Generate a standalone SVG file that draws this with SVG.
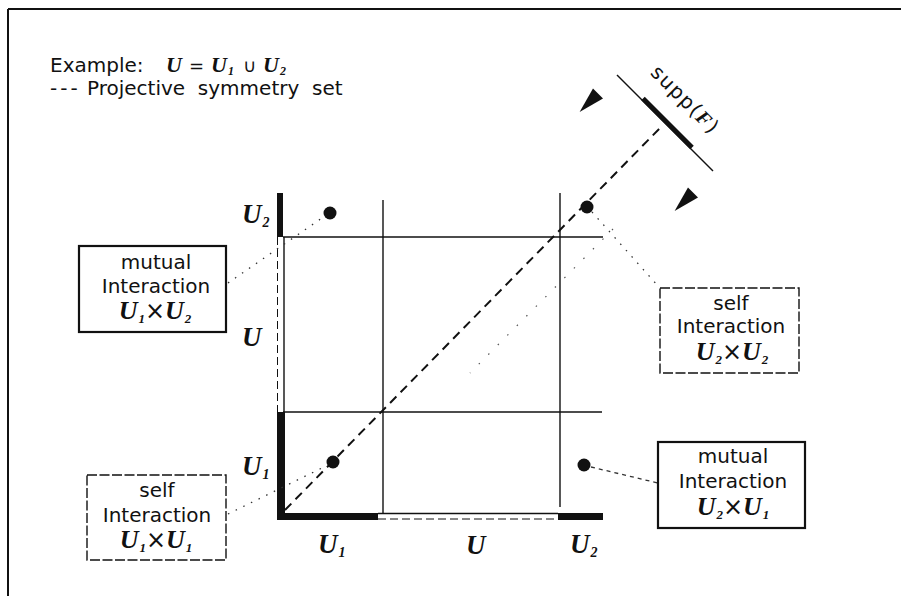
<svg xmlns="http://www.w3.org/2000/svg" width="901" height="596" viewBox="0 0 901 596">
<style>
.t{font-family:"DejaVu Sans","Liberation Sans",sans-serif;font-size:20px;fill:#111}
.bt{font-family:"DejaVu Sans","Liberation Sans",sans-serif;font-size:20px;fill:#111;text-anchor:middle}
.u{font-family:"Liberation Serif","DejaVu Serif",serif;font-style:italic;font-weight:bold;font-size:27px;fill:#111}
.ub{font-family:"Liberation Serif","DejaVu Serif",serif;font-style:italic;font-weight:bold;font-size:26px;fill:#111;text-anchor:middle}
.sub{font-size:14px}
.op{font-family:"DejaVu Sans",sans-serif;font-style:normal;font-weight:normal}
.ln{stroke:#111;stroke-width:1.4;fill:none}
.bar{fill:#111}
.solidbox{fill:#fff;stroke:#111;stroke-width:2.2}
.dashbox{fill:#fff;stroke:#111;stroke-width:1.4;stroke-dasharray:10 2.5}
.lead{stroke:#333;stroke-width:1.3;fill:none;stroke-dasharray:1.5 7}
.faint{stroke:#555;stroke-width:1.2;fill:none;stroke-dasharray:1.5 12}
.dot{fill:#111}
</style>

<g id="frame">
<line x1="8" y1="9" x2="901" y2="9" stroke="#111" stroke-width="2"/>
<line x1="8" y1="9" x2="8" y2="596" stroke="#111" stroke-width="2"/>
</g>

<g id="legend">
<text class="t" x="50" y="72">Example:</text>
<text class="u" x="166" y="72" style="font-size:22px">U<tspan class="op" dx="7" style="font-size:18px">=</tspan><tspan dx="7">U</tspan><tspan class="sub" style="font-size:12px" dx="1" dy="3">1</tspan><tspan class="op" dx="9" dy="-3" style="font-size:18px">∪</tspan><tspan dx="7">U</tspan><tspan class="sub" style="font-size:12px" dx="1" dy="3">2</tspan></text>
<text class="t" x="50" y="95" font-size="21" xml:space="preserve"><tspan letter-spacing="3">---</tspan> Projective  symmetry  set</text>
</g>

<g id="axes">
<rect class="bar" x="277" y="193" width="6" height="44"/>
<rect class="bar" x="277" y="412" width="8" height="108"/>
<line class="ln" x1="284" y1="237" x2="284" y2="412"/>
<line x1="277.5" y1="237" x2="277.5" y2="412" stroke="#111" stroke-width="1" stroke-dasharray="8 4"/>
<rect class="bar" x="277" y="513" width="101" height="7"/>
<rect class="bar" x="558" y="513" width="45" height="7"/>
<line class="ln" x1="378" y1="513.5" x2="558" y2="513.5"/>
<line x1="378" y1="519" x2="558" y2="519" stroke="#111" stroke-width="1" stroke-dasharray="8 4"/>
</g>

<g id="grid">
<line class="ln" x1="283" y1="237" x2="603" y2="237"/>
<line class="ln" x1="283" y1="412" x2="602" y2="412"/>
<line class="ln" x1="383" y1="200" x2="383" y2="513"/>
<line class="ln" x1="560" y1="193" x2="560" y2="507"/>
</g>

<g id="axis-labels">
<text class="u" x="242" y="223">U<tspan class="sub" dx="1" dy="4">2</tspan></text>
<text class="u" x="242" y="346">U</text>
<text class="u" x="242" y="475">U<tspan class="sub" dx="1" dy="4">1</tspan></text>
<text class="u" x="318" y="553">U<tspan class="sub" dx="1" dy="4">1</tspan></text>
<text class="u" x="466" y="554">U</text>
<text class="u" x="570" y="553">U<tspan class="sub" dx="1" dy="4">2</tspan></text>
</g>

<g id="connectors">
<line x1="285" y1="510" x2="661" y2="127" stroke="#111" stroke-width="2" stroke-dasharray="9 6"/>
<line class="faint" x1="613" y1="229" x2="470" y2="373"/>
<line class="lead" x1="228" y1="283" x2="322" y2="218"/>
<line class="lead" x1="592" y1="212" x2="658" y2="286"/>
<line x1="591" y1="467" x2="658" y2="483" stroke="#333" stroke-width="1.3" stroke-dasharray="4 4"/>
<line class="lead" x1="228" y1="514" x2="326" y2="466"/>
</g>

<g id="supp">
<line x1="617" y1="75" x2="713" y2="171" stroke="#111" stroke-width="1.5"/>
<line x1="643" y1="98.5" x2="692" y2="147.5" stroke="#111" stroke-width="5"/>
<polygon points="579.6,111.9 593,88.5 603,98.5" fill="#111"/>
<polygon points="674.6,210.9 688,187.5 698,197.5" fill="#111"/>
<text class="t" transform="translate(649.5,73.5) rotate(45)" font-size="21" letter-spacing="1.5">supp(<tspan style="font-family:'Liberation Serif',serif;font-style:italic;font-weight:bold">F</tspan>)</text>
</g>

<g id="dots">
<circle class="dot" cx="330" cy="213" r="6.5"/>
<circle class="dot" cx="587" cy="207" r="6.5"/>
<circle class="dot" cx="333" cy="462" r="6.5"/>
<circle class="dot" cx="584" cy="465" r="6.5"/>
</g>

<g id="mutual-u1-u2">
<rect class="solidbox" x="79" y="246" width="147" height="86"/>
<text class="bt" x="156" y="269">mutual</text>
<text class="bt" x="156" y="293">Interaction</text>
<text class="ub" x="155" y="319">U<tspan class="sub" style="font-size:13px" dx="1" dy="4">1</tspan><tspan class="op" style="font-size:24px" dy="-4">×</tspan>U<tspan class="sub" style="font-size:13px" dx="1" dy="4">2</tspan></text>
</g>

<g id="self-u2-u2">
<rect class="dashbox" x="660" y="288" width="139" height="85"/>
<text class="bt" x="731" y="310">self</text>
<text class="bt" x="731" y="333">Interaction</text>
<text class="ub" x="732" y="360">U<tspan class="sub" style="font-size:13px" dx="1" dy="4">2</tspan><tspan class="op" style="font-size:24px" dy="-4">×</tspan>U<tspan class="sub" style="font-size:13px" dx="1" dy="4">2</tspan></text>
</g>

<g id="mutual-u2-u1">
<rect class="solidbox" x="658" y="442" width="147" height="86"/>
<text class="bt" x="733" y="463">mutual</text>
<text class="bt" x="733" y="488">Interaction</text>
<text class="ub" x="733" y="515">U<tspan class="sub" style="font-size:13px" dx="1" dy="4">2</tspan><tspan class="op" style="font-size:24px" dy="-4">×</tspan>U<tspan class="sub" style="font-size:13px" dx="1" dy="4">1</tspan></text>
</g>

<g id="self-u1-u1">
<rect class="dashbox" x="87" y="475" width="139" height="85"/>
<text class="bt" x="157" y="497">self</text>
<text class="bt" x="157" y="522">Interaction</text>
<text class="ub" x="156" y="548">U<tspan class="sub" style="font-size:13px" dx="1" dy="4">1</tspan><tspan class="op" style="font-size:24px" dy="-4">×</tspan>U<tspan class="sub" style="font-size:13px" dx="1" dy="4">1</tspan></text>
</g>
</svg>
